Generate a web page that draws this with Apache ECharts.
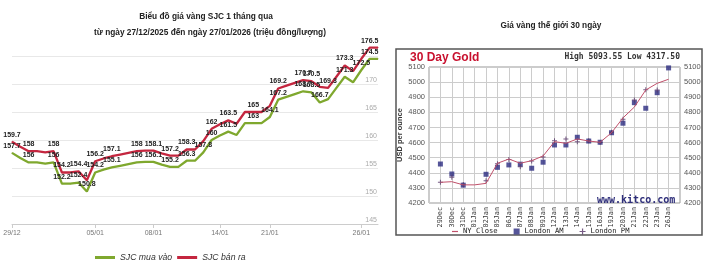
<!DOCTYPE html>
<html>
<head>
<meta charset="utf-8">
<script src="https://cdn.jsdelivr.net/npm/echarts@6/dist/echarts.min.js"></script>
<style>
  html, body { margin: 0; background: #fff; }
  #chart { width: 720px; height: 269px; }
</style>
</head>
<body>
<div id="chart"></div>
<script>
// --- SJC (trong nuoc), moi diem la mot lan cap nhat gia
const days = [
  '29/12', '29/12', '30/12', '30/12', '31/12', '31/12', '02/01', '02/01', '03/01', '03/01',
  '05/01', '05/01', '06/01', '06/01', '07/01', '07/01', '07/01', '08/01', '08/01', '09/01',
  '09/01', '10/01', '10/01', '12/01', '13/01', '14/01', '15/01', '16/01', '17/01', '19/01',
  '20/01', '21/01', '21/01', '22/01', '22/01', '22/01', '23/01', '23/01', '23/01', '24/01',
  '24/01', '24/01', '26/01', '26/01', '27/01'
]
const tickDays = ['29/12', '05/01', '08/01', '14/01', '21/01', '26/01']
const sjcBuy = [
  157.7, 156.8, 156, 156, 155.8, 156, 152.2, 152.2, 152.4, 150.8,
  154.2, 154.7, 155.1, 155.4, 155.7, 156, 156.1, 156.1, 155.6, 155.2,
  155.2, 156.3, 156.3, 157.8, 160, 160.8, 161.5, 160.9, 163, 163,
  163, 164.1, 167.2, 167.7, 168.2, 168.7, 168.5, 166.7, 167.3, 169.3,
  171.3, 170.3, 172.5, 174.5, 174.5
]
const sjcSell = [
  159.7, 158.8, 158, 158, 157.8, 158, 154.2, 154.2, 154.4, 152.8,
  156.2, 156.7, 157.1, 157.4, 157.7, 158, 158.1, 158.1, 157.6, 157.2,
  157.2, 158.3, 158.3, 159.8, 162, 162.8, 163.5, 162.9, 165, 165,
  165, 166.1, 169.2, 169.7, 170.2, 170.7, 170.5, 169.5, 169.3, 171.3,
  173.3, 172.3, 174.5, 176.5, 176.5
]
// cac diem co ghi gia tren bieu do
const buyLabeled = [0, 2, 5, 6, 8, 9, 10, 12, 15, 17, 19, 21, 23, 24, 26, 29, 31, 32, 35, 36, 37, 40, 42, 43]
const sellLabeled = [0, 2, 5, 6, 8, 10, 12, 15, 17, 19, 21, 24, 26, 29, 32, 35, 36, 38, 40, 43]

// --- Kitco 30 day gold (USD/oz)
const kitcoDays = [
  '', '29Dec', '30Dec', '31Dec', '01Jan', '02Jan', '05Jan', '06Jan', '07Jan', '08Jan', '09Jan',
  '12Jan', '13Jan', '14Jan', '15Jan', '16Jan', '19Jan', '20Jan', '21Jan', '22Jan', '23Jan', '26Jan', ''
]
const nyClose = [
  null, 4337, 4341, 4320, 4320, 4330, 4463, 4491, 4463, 4480, 4511,
  4606, 4595, 4624, 4610, 4602, 4665, 4763, 4835, 4948, 4992, 5019, null
]
const londonAM = [
  null, 4458, 4392, 4318, null, 4390, 4436, 4452, 4457, 4430, 4470,
  4584, 4584, 4635, 4610, 4602, 4665, 4728, 4864, 4827, 4930, 5094, null
]
const londonPM = [
  null, 4338, 4370, 4322, null, 4348, 4460, 4488, 4440, 4478, 4505,
  4612, 4624, 4606, 4612, 4600, 4668, 4755, 4882, 4950, 4948, null, null
]

const GREEN = '#7fa82e'
const RED = '#c4263f'
const SANS = 'Liberation Sans, Arial, sans-serif'
const MONO = 'DejaVu Sans Mono, monospace'
const plusPath = 'path://M4,0h2v4h4v2h-4v4h-2v-4h-4v-2h4z'

// nhan ngay: chi hien o lan dau cua ngay co trong tickDays
function isTick(i) {
  return tickDays.includes(days[i]) && days[i - 1] !== days[i]
}

function valueLabel(list) {
  return {
    show: true, position: 'top', distance: 3,
    fontSize: 7, fontWeight: 'bold', color: '#222',
    formatter: p => (list.includes(p.dataIndex) ? String(p.value) : '')
  }
}

const chart = echarts.init(document.getElementById('chart'))

const option = {
  animation: false,
  textStyle: { fontFamily: SANS },
  title: [
    {
      text: 'Biểu đồ giá vàng SJC 1 tháng qua',
      left: 206, top: 13, padding: 0, textAlign: 'center',
      textStyle: { fontSize: 8.3, fontWeight: 'bold', color: '#222' }
    },
    {
      text: 'từ ngày 27/12/2025 đến ngày 27/01/2026 (triệu đồng/lượng)',
      left: 210, top: 29, padding: 0, textAlign: 'center',
      textStyle: { fontSize: 8.3, fontWeight: 'bold', color: '#222' }
    },
    {
      text: 'Giá vàng thế giới 30 ngày',
      left: 551, top: 22, padding: 0, textAlign: 'center',
      textStyle: { fontSize: 8.3, fontWeight: 'bold', color: '#222' }
    },
    {
      text: '30 Day Gold',
      left: 410, top: 52, padding: 0,
      textStyle: { fontSize: 12, fontWeight: 'bold', color: '#c8102e' }
    },
    {
      text: 'High 5093.55 Low 4317.50',
      left: 680, top: 53, padding: 0, textAlign: 'right',
      textStyle: { fontSize: 8, fontWeight: 'bold', color: '#333', fontFamily: MONO }
    },
    {
      text: 'www.kitco.com',
      left: 597, top: 195, padding: 0,
      textStyle: { fontSize: 10, fontWeight: 'bold', color: '#2e2e7a', fontFamily: MONO }
    }
  ],
  graphic: [
    {
      type: 'rect', z: -10,
      shape: { x: 396, y: 49, width: 306, height: 186 },
      style: { fill: 'none', stroke: '#555', lineWidth: 1.5 }
    }
  ],
  legend: [
    {
      data: ['SJC mua vào', 'SJC bán ra'],
      left: 90, top: 248, icon: 'rect', itemWidth: 20, itemHeight: 3, itemGap: 5,
      textStyle: { fontSize: 8.7, fontStyle: 'italic', color: '#333' }
    },
    {
      data: [
        { name: 'NY Close', icon: 'path://M0,4h10v2h-10z' },
        { name: 'London AM', icon: 'rect' },
        { name: 'London PM', icon: plusPath }
      ],
      left: 447, top: 223, itemWidth: 6, itemHeight: 6, itemGap: 16,
      textStyle: { fontSize: 7.2, color: '#222', fontFamily: MONO }
    }
  ],
  grid: [
    { left: 12, right: 342, top: 56, bottom: 45 },
    { left: 429, right: 40, top: 67, bottom: 66, show: true, borderColor: '#999', borderWidth: 1 }
  ],
  xAxis: [
    {
      type: 'category', gridIndex: 0, data: days, boundaryGap: false,
      axisLine: { lineStyle: { color: '#ccc' } },
      axisTick: { interval: isTick, length: 4, lineStyle: { color: '#ccc' } },
      axisLabel: { interval: isTick, fontSize: 7, color: '#777', margin: 6 },
      splitLine: { show: false }
    },
    {
      type: 'category', gridIndex: 1, data: kitcoDays, boundaryGap: false,
      axisLine: { show: false },
      axisTick: { show: false },
      axisLabel: { interval: 0, rotate: 90, fontSize: 6.8, color: '#333', fontFamily: MONO, margin: 4 },
      splitLine: { show: true, interval: 0, lineStyle: { color: '#ccc' } }
    }
  ],
  yAxis: [
    {
      type: 'value', gridIndex: 0, position: 'right', min: 145, max: 175, interval: 5,
      axisLine: { show: false }, axisTick: { show: false },
      axisLabel: { inside: true, margin: 1, fontSize: 7, color: '#aaa', verticalAlign: 'bottom', showMaxLabel: false },
      splitLine: { lineStyle: { color: '#e8e8e8' } }
    },
    {
      type: 'value', gridIndex: 1, position: 'left', min: 4200, max: 5100, interval: 100,
      axisLine: { show: false }, axisTick: { show: false },
      axisLabel: { fontSize: 7.5, color: '#555', margin: 4, formatter: v => String(v) },
      splitLine: { lineStyle: { color: '#ccc' } },
      name: 'USD per ounce', nameLocation: 'middle', nameGap: 21,
      nameTextStyle: { fontSize: 7.5, fontWeight: 'bold', color: '#333' }
    },
    {
      type: 'value', gridIndex: 1, position: 'right', min: 4200, max: 5100, interval: 100,
      axisLine: { show: false }, axisTick: { show: false },
      axisLabel: { fontSize: 7.5, color: '#555', margin: 4, formatter: v => String(v) },
      splitLine: { show: false }
    }
  ],
  series: [
    {
      name: 'SJC mua vào', type: 'line', xAxisIndex: 0, yAxisIndex: 0, data: sjcBuy,
      clip: false, symbol: 'circle', symbolSize: 1, showAllSymbol: true,
      itemStyle: { color: GREEN }, lineStyle: { color: GREEN, width: 2.3 },
      label: valueLabel(buyLabeled)
    },
    {
      name: 'SJC bán ra', type: 'line', xAxisIndex: 0, yAxisIndex: 0, data: sjcSell,
      clip: false, symbol: 'circle', symbolSize: 1, showAllSymbol: true,
      itemStyle: { color: RED }, lineStyle: { color: RED, width: 2.3 },
      label: valueLabel(sellLabeled)
    },
    {
      name: 'NY Close', type: 'line', xAxisIndex: 1, yAxisIndex: 1, data: nyClose,
      symbol: 'none', connectNulls: true,
      itemStyle: { color: '#c0506a' }, lineStyle: { color: '#c0506a', width: 1 }
    },
    {
      name: 'London AM', type: 'scatter', xAxisIndex: 1, yAxisIndex: 1, data: londonAM,
      symbol: 'rect', symbolSize: 5, itemStyle: { color: '#2b2b80' }
    },
    {
      name: 'London PM', type: 'scatter', xAxisIndex: 1, yAxisIndex: 1, data: londonPM,
      symbol: plusPath, symbolSize: 5, itemStyle: { color: '#553366' }
    }
  ]
}

chart.setOption(option)
</script>
</body>
</html>
